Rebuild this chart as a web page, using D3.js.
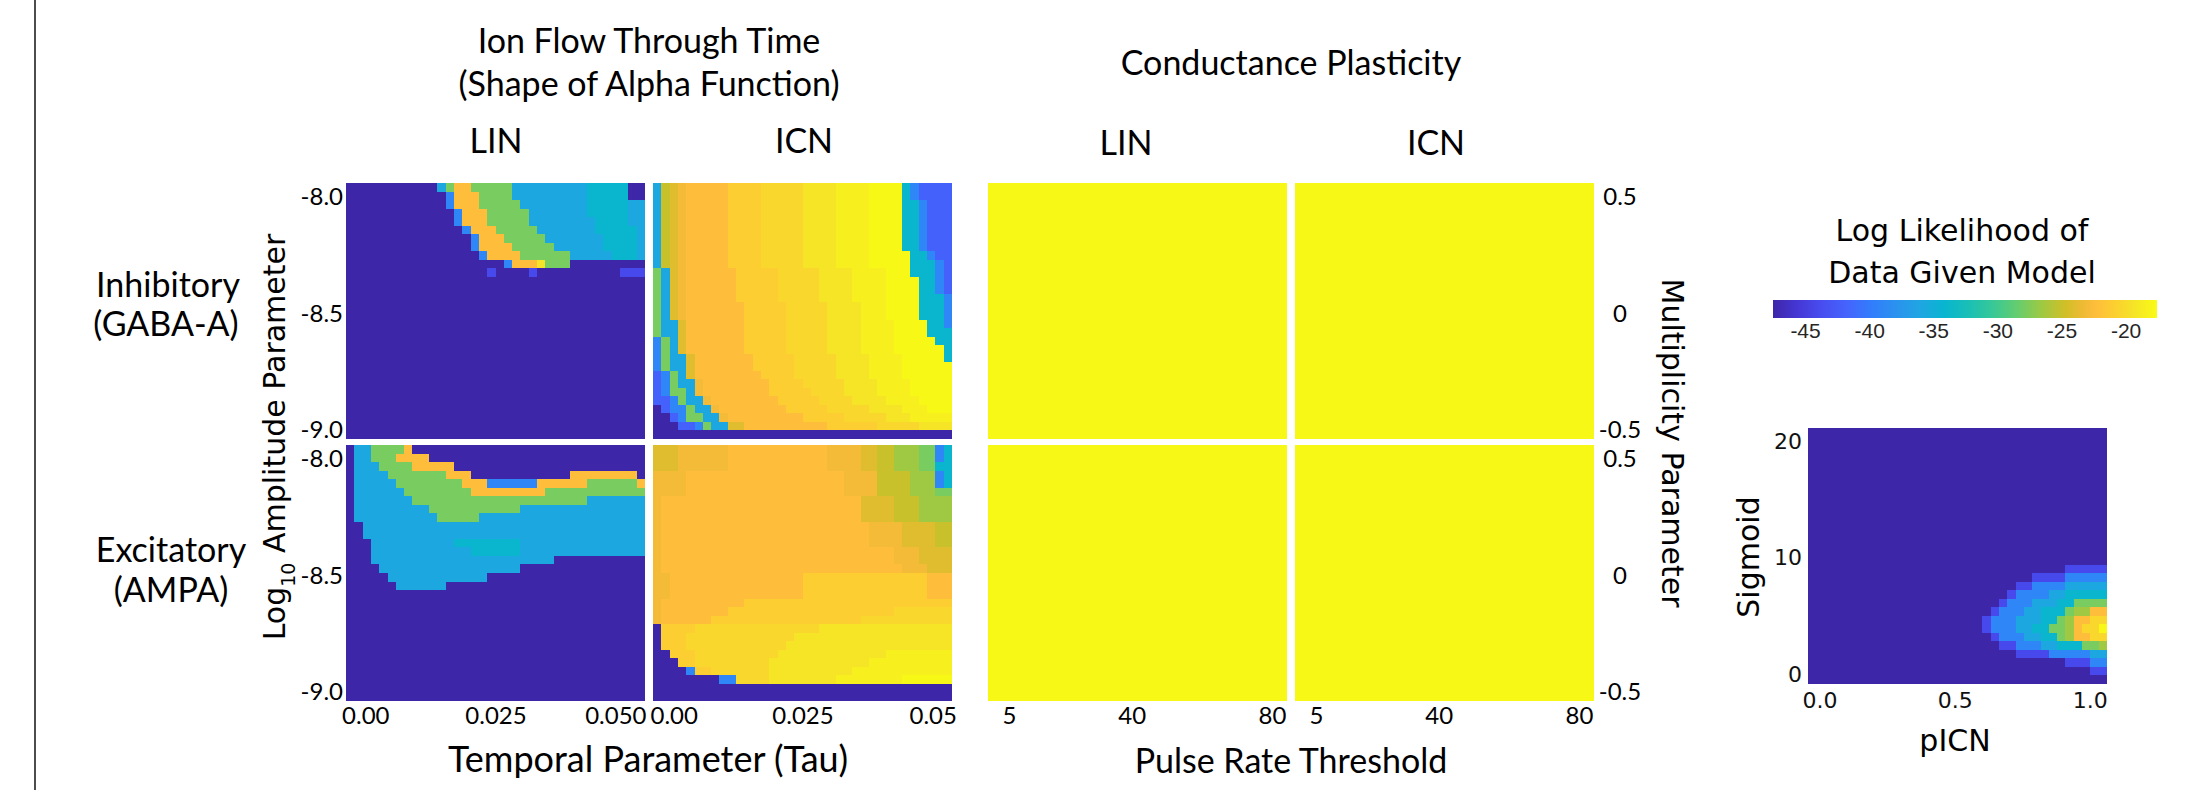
<!DOCTYPE html>
<html>
<head>
<meta charset="utf-8">
<script src="https://cdn.jsdelivr.net/npm/d3@7"></script>
<style>
  body { margin: 0; background: #fff; }
  svg { display: block; }
</style>
</head>
<body>
<svg id="chart" width="2186" height="790"></svg>
<script>
// ticks and tick labels
let tauTicks = [0, 0.025, 0.05]
let tauLabelsLIN = ['0.00', '0.025', '0.050']
let tauLabelsICN = ['0.00', '0.025', '0.05']
let ampTicks = [-8.0, -8.5, -9.0]
let pulseTicks = [5, 40, 80]
let multTicks = [0.5, 0, -0.5]
let picnTicks = [0, 0.5, 1.0]
let sigmoidTicks = [0, 10, 20]
let llTicks = [-45, -40, -35, -30, -25, -20]
let llDomain = [-47.5, -17.55]

// log likelihood of each cell code used in the grids below
let levelCodes  = ['.', 'u', 'v', 'b', 'c', 't', 'g', 'o', 'y', 'A', 'B', 'C', 'D', 'E', 'F', 'G', 'H', 'I', 'J']
let levelValues = [-47.5, -44, -42, -39, -35.8, -34, -27.8, -22.3, -19.4, -26.5, -25, -24, -23, -22.3, -21, -20.3, -19.3, -18.5, -17.8]

// grids, top row first, each row run-length coded as "<count><code>"
let inhibLIN = [
  '11. 1c 1g 2o 5g 9c 5t 2.',
  '12. 1b 3o 4g 9c 5t 2.',
  '12. 1b 3o 5g 8c 5t 2c',
  '13. 1b 3o 5g 7c 5t 2c',
  '13. 1b 3o 5g 8c 4t 2c',
  '14. 1b 3o 5g 7c 5t 1c',
  '15. 1b 3o 5g 7c 4t 1c',
  '15. 1b 4o 5g 6c 4t 1c',
  '16. 1b 4o 6g 5c 3t 1c',
  '19. 1b 3o 1y 3g 9.',
  '17. 1u 4. 1u 10. 3u',
  '36.', '36.', '36.', '36.', '36.', '36.', '36.', '36.', '36.', '36.',
  '36.', '36.', '36.', '36.', '36.', '36.', '36.', '36.', '36.'
]

let inhibICN = [
  '1c 1B 1C 1D 5E 4F 5G 4H 4I 4J 1t 1b 4v',
  '1c 1B 1C 1D 5E 4F 5G 4H 4I 4J 1t 1b 4v',
  '1c 1B 1C 1D 5E 4F 5G 4H 4I 4J 2t 1b 3v',
  '1c 1B 1C 1D 5E 4F 5G 4H 4I 4J 2t 1b 3v',
  '1c 1B 1C 1D 5E 4F 5G 4H 4I 4J 2t 1b 3v',
  '1c 1B 1C 1D 5E 4F 5G 4H 4I 4J 2t 1b 3v',
  '1c 1B 1C 1D 5E 4F 5G 4H 4I 4J 2t 1b 3v',
  '1c 1B 1C 1D 5E 4F 5G 4H 4I 4J 2t 1b 3v',
  '1c 1B 1C 1D 5E 4F 5G 4H 4I 5J 2t 1b 2v',
  '1c 1B 1C 1D 5E 4F 5G 4H 4I 5J 3t 1b 1v',
  '1g 1c 1C 1D 6E 5F 5G 4H 4I 3J 3t 1b 1v',
  '1g 1c 1C 1D 6E 5F 5G 4H 4I 4J 2t 1b 1v',
  '1g 1c 1C 1D 6E 5F 5G 4H 4I 4J 2t 1b 1v',
  '1g 1c 1C 1D 6E 5F 5G 4H 4I 4J 3t 1b',
  '1g 1c 1C 1D 7E 5F 5G 4H 3I 4J 3t 1b',
  '1g 1c 1C 1D 7E 5F 5G 4H 3I 4J 3t 1b',
  '1g 2c 1C 7E 5F 5G 4H 4I 4J 2t 1b',
  '1g 2c 1C 7E 5F 5G 4H 4I 4J 3t',
  '1b 1g 1c 1C 7E 5F 5G 4H 4I 5J 2t',
  '1b 1g 1c 1C 7E 5F 5G 4H 4I 6J 1t',
  '1b 1g 2c 1C 7E 5F 5G 4H 4I 5J 1t',
  '1b 1g 2c 1C 7E 5F 5G 4H 4I 6J',
  '1v 1b 1g 1c 1C 8E 4F 5G 4H 4I 6J',
  '1v 1b 1g 2c 1D 8E 4F 5G 4H 4I 5J',
  '1v 1b 2g 1c 1D 8E 5F 4G 4H 4I 5J',
  '2v 1b 1g 2c 1D 8E 5F 4G 4H 4I 4J',
  '1. 1v 2b 1g 2c 1D 8E 5F 5G 4H 3I 3J',
  '2. 1v 1b 2g 2c 1D 9E 5F 5G 3H 5I',
  '3. 2v 1b 1g 2c 2C 10E 6F 5G 4H',
  '36.'
]

let excitLIN = [
  '1. 2c 4g 1o 28.',
  '1. 2c 3g 4o 26.',
  '1. 3c 4g 5o 23.',
  '1. 4c 7g 3o 12. 8o 1.',
  '1. 5c 8g 3o 6b 6o 6g 1o',
  '1. 6c 8g 9o 12g',
  '1. 7c 21g 7c',
  '1. 9c 11g 15c',
  '1. 10c 5g 20c',
  '2. 34c',
  '2. 34c',
  '3. 10c 8t 15c',
  '3. 12c 6t 15c',
  '3. 22c 11.',
  '4. 17c 15.',
  '5. 12c 19.',
  '6. 6c 24.',
  '36.', '36.', '36.', '36.', '36.', '36.', '36.', '36.', '36.', '36.',
  '36.', '36.', '36.'
]

let excitICN = [
  '3C 6D 12E 4D 2C 2B 3A 2g 1b 1t',
  '3C 6D 12E 4D 2C 2B 3A 2g 1b 1t',
  '3C 6D 12E 4D 2C 2B 3A 2g 2t',
  '4D 19E 4D 4B 3A 1b 1t',
  '4D 19E 4D 4B 3A 1b 1t',
  '4D 19E 4D 4B 3A 2g',
  '1D 24E 4C 3B 4A',
  '1D 24E 4C 3B 4A',
  '1D 24E 4C 3B 4A',
  '1D 25E 4D 4C 2B',
  '1D 25E 4D 4C 2B',
  '1D 25E 4D 4C 2B',
  '1D 28E 3D 4C',
  '1D 28E 3D 4C',
  '1D 29E 3D 3C',
  '2D 16E 15F 3E',
  '2D 16E 15F 3E',
  '2D 16E 15F 3E',
  '1D 10E 25F',
  '1D 8E 20F 7G',
  '1D 6E 18F 11G',
  '1. 4F 15G 16H',
  '1. 3F 13G 19H',
  '1. 3F 12G 20H',
  '2. 3F 10G 13H 8I',
  '3. 2F 9G 12H 10I',
  '4. 1b 2F 7G 10H 12I',
  '8. 2b 4G 8H 8I 6J',
  '36.',
  '36.'
]

let condInhibLIN = ['1J']
let condInhibICN = ['1J']
let condExcitLIN = ['1J']
let condExcitICN = ['1J']

let picnSigmoid = [
  '36.', '36.', '36.', '36.', '36.', '36.', '36.', '36.',
  '36.', '36.', '36.', '36.', '36.', '36.', '36.', '36.',
  '31. 5u',
  '27. 4u 5b',
  '25. 2u 4b 5c',
  '24. 1u 4b 2c 5t',
  '23. 1u 3b 3c 2t 4g',
  '22. 1u 3b 2c 3t 1g 2A 2E',
  '21. 1u 3b 3c 2t 1g 1A 2E 2G',
  '21. 1u 3b 2c 2t 2g 1A 1E 2G 1J',
  '22. 1u 3b 2c 2t 1g 1A 2E 2G',
  '23. 2u 3b 2c 3t 2g 1A',
  '25. 4u 5b 2c',
  '31. 3u 2b',
  '34. 2u',
  '36.'
]

// parula colormap (position, r, g, b)
let parula = [
  [0 / 63, 0.2422, 0.1504, 0.6603], [4 / 63, 0.2706, 0.2147, 0.8364],
  [8 / 63, 0.2813, 0.3006, 0.9414], [12 / 63, 0.2699, 0.3892, 0.9906],
  [16 / 63, 0.1963, 0.4847, 0.9892], [20 / 63, 0.1687, 0.5703, 0.9359],
  [24 / 63, 0.1248, 0.6459, 0.8883], [28 / 63, 0.0297, 0.7082, 0.8163],
  [32 / 63, 0.0964, 0.7500, 0.7120], [36 / 63, 0.2161, 0.7843, 0.5923],
  [40 / 63, 0.3909, 0.8029, 0.4354], [44 / 63, 0.6174, 0.7876, 0.2612],
  [48 / 63, 0.8203, 0.7498, 0.1535], [51 / 63, 0.9393, 0.7288, 0.2100],
  [53 / 63, 0.9956, 0.7434, 0.2371], [56 / 63, 0.9892, 0.8136, 0.1885],
  [59 / 63, 0.9610, 0.8890, 0.1537], [63 / 63, 0.9769, 0.9839, 0.0805]
]

let myriad = 'Lato, "Open Sans", sans-serif'
let lucida = '"DejaVu Sans", Verdana, sans-serif'
let helv = '"Liberation Sans", Arial, sans-serif'

let svg = d3.select('#chart')

let hex = (p) => d3.rgb(p[1] * 255, p[2] * 255, p[3] * 255).formatHex()
let color = d3.scaleLinear()
    .domain(parula.map((p) => llDomain[0] + p[0] * (llDomain[1] - llDomain[0])))
    .range(parula.map(hex))
    .clamp(true)

let parseRow = (row) => row.match(/\d+\D/g).map((t) => ({ n: +t.slice(0, -1), code: t.slice(-1) }))

let drawGrid = (grid, xr, yr) => {
    let rows = grid.map(parseRow)
    let nCols = d3.sum(rows[0], (d) => d.n)
    let x = d3.scaleLinear().domain([0, nCols]).range(xr)
    let y = d3.scaleBand().domain(d3.range(rows.length)).range(yr)
    let runs = []
    rows.forEach((row, i) => {
        let c = 0
        row.forEach((r) => {
            runs.push({ i: i, c: c, n: r.n, v: levelValues[levelCodes.indexOf(r.code)] })
            c += r.n
        })
    })
    svg.append('g')
        .attr('shape-rendering', 'crispEdges')
        .selectAll('rect')
        .data(runs)
        .enter()
        .append('rect')
        .attr('x', (d) => x(d.c))
        .attr('y', (d) => y(d.i))
        .attr('width', (d) => x(d.c + d.n) - x(d.c))
        .attr('height', y.bandwidth())
        .attr('fill', (d) => color(d.v))
}

let styleAxis = (g, font, size, fill) => {
    g.select('.domain').remove()
    g.attr('font-family', font).attr('font-size', size)
    g.selectAll('text').attr('fill', fill)
}

let label = (x, y, txt, font, size) => svg.append('text')
    .attr('x', x).attr('y', y)
    .attr('text-anchor', 'middle')
    .attr('font-family', font)
    .attr('font-size', size)
    .attr('fill', '#000')
    .text(txt)

// panel frames
let colLIN = [346, 645], colICN = [653, 952], colCondLIN = [988, 1287], colCondICN = [1295, 1594]
let rowInhib = [183, 439], rowExcit = [445, 701]

drawGrid(inhibLIN, colLIN, rowInhib)
drawGrid(inhibICN, colICN, rowInhib)
drawGrid(condInhibLIN, colCondLIN, rowInhib)
drawGrid(condInhibICN, colCondICN, rowInhib)
drawGrid(excitLIN, colLIN, rowExcit)
drawGrid(excitICN, colICN, rowExcit)
drawGrid(condExcitLIN, colCondLIN, rowExcit)
drawGrid(condExcitICN, colCondICN, rowExcit)

// left amplitude axes and right multiplicity axes
;[rowInhib, rowExcit].forEach((r) => {
    let amp = d3.scaleLinear().domain([-7.94, -9.04]).range(r)
    let g = svg.append('g').attr('transform', 'translate(' + colLIN[0] + ',0)')
        .call(d3.axisLeft(amp).tickValues(ampTicks).tickSize(0).tickPadding(3).tickFormat((d) => d.toFixed(1)))
    styleAxis(g, myriad, 24, '#000')

    let mult = d3.scaleLinear().domain([0.56, -0.54]).range(r)
    let g2 = svg.append('g').attr('transform', 'translate(' + colCondICN[1] + ',0)')
        .call(d3.axisRight(mult).tickValues(multTicks).tickSize(0).tickFormat((d) => String(d)))
    styleAxis(g2, myriad, 24, '#000')
    g2.selectAll('text').attr('text-anchor', 'middle').attr('x', 26)
})

// bottom axes
let tauLIN = d3.scaleLinear().domain([-0.0037, 0.0537]).range(colLIN)
let tauICN = d3.scaleLinear().domain([-0.0037, 0.0537]).range(colICN)
let gTauLIN = svg.append('g').attr('transform', 'translate(0,' + rowExcit[1] + ')')
    .call(d3.axisBottom(tauLIN).tickValues(tauTicks).tickSize(0).tickPadding(6).tickFormat((d, i) => tauLabelsLIN[i]))
styleAxis(gTauLIN, myriad, 24, '#000')
// last LIN label and first ICN label meet at the panel gap
gTauLIN.selectAll('text').filter((d, i) => i === 2)
    .attr('text-anchor', 'end').attr('x', colLIN[1] + 1 - tauLIN(0.05))
let gTauICN = svg.append('g').attr('transform', 'translate(0,' + rowExcit[1] + ')')
    .call(d3.axisBottom(tauICN).tickValues(tauTicks).tickSize(0).tickPadding(6).tickFormat((d, i) => tauLabelsICN[i]))
styleAxis(gTauICN, myriad, 24, '#000')
gTauICN.selectAll('text').filter((d, i) => i === 0)
    .attr('text-anchor', 'start').attr('x', colICN[0] - 3 - tauICN(0))

;[colCondLIN, colCondICN].forEach((c) => {
    let pulse = d3.scaleLinear().domain([-1, 84.3]).range(c)
    let g = svg.append('g').attr('transform', 'translate(0,' + rowExcit[1] + ')')
        .call(d3.axisBottom(pulse).tickValues(pulseTicks).tickSize(0).tickPadding(6).tickFormat((d) => String(d)))
    styleAxis(g, myriad, 24, '#000')
})

// small pICN / sigmoid map
let picnX = d3.scaleLinear().domain([-0.043, 1.064]).range([1808, 2107])
let sigY = d3.scaleLinear().domain([-0.86, 21.15]).range([684, 428])
drawGrid(picnSigmoid, picnX.range(), [428, 684])
let gx = svg.append('g').attr('transform', 'translate(0,684)')
    .call(d3.axisBottom(picnX).tickValues(picnTicks).tickSize(0).tickPadding(8).tickFormat((d) => d.toFixed(1)))
styleAxis(gx, lucida, 22, '#111')
let gy = svg.append('g').attr('transform', 'translate(1808,0)')
    .call(d3.axisLeft(sigY).tickValues(sigmoidTicks).tickSize(0).tickPadding(6).tickFormat((d) => String(d)))
styleAxis(gy, lucida, 22, '#111')

// colorbar
let cbX = d3.scaleLinear().domain(llDomain).range([1773, 2157])
let grad = svg.append('defs').append('linearGradient').attr('id', 'parula')
grad.selectAll('stop').data(parula).enter().append('stop')
    .attr('offset', (p) => p[0])
    .attr('stop-color', hex)
svg.append('rect').attr('x', cbX(llDomain[0])).attr('y', 300)
    .attr('width', cbX(llDomain[1]) - cbX(llDomain[0])).attr('height', 18)
    .attr('fill', 'url(#parula)')
let gc = svg.append('g').attr('transform', 'translate(0,318)')
    .call(d3.axisBottom(cbX).tickValues(llTicks).tickSize(0).tickPadding(5).tickFormat((d) => String(d)))
styleAxis(gc, helv, 21, '#262626')

// texts
svg.append('line').attr('x1', 35).attr('x2', 35).attr('y1', 0).attr('y2', 790)
    .attr('stroke', '#000').attr('stroke-width', 1.4)

label(649, 53, 'Ion Flow Through Time', myriad, 34)
label(649, 96, '(Shape of Alpha Function)', myriad, 34)
label(1291, 75, 'Conductance Plasticity', myriad, 34)
label(496, 153, 'LIN', myriad, 34)
label(804, 153, 'ICN', myriad, 34)
label(1126, 155, 'LIN', myriad, 34)
label(1436, 155, 'ICN', myriad, 34)
label(168, 297, 'Inhibitory', myriad, 34)
label(166, 336, '(GABA-A)', myriad, 34)
label(171, 562, 'Excitatory', myriad, 34)
label(171, 602, '(AMPA)', myriad, 34)
label(648, 772, 'Temporal Parameter (Tau)', myriad, 36)
label(1291, 773, 'Pulse Rate Threshold', myriad, 34)

label(1962, 241, 'Log Likelihood of', lucida, 30)
label(1962, 283, 'Data Given Model', lucida, 30)
label(1955, 751, 'pICN', lucida, 30)

svg.append('text')
    .attr('transform', 'translate(1759,557) rotate(-90)')
    .attr('text-anchor', 'middle').attr('font-family', lucida).attr('font-size', 30)
    .text('Sigmoid')

let ampLabel = svg.append('text')
    .attr('transform', 'translate(285,437) rotate(-90)')
    .attr('text-anchor', 'middle').attr('font-family', lucida).attr('font-size', 30)
ampLabel.append('tspan').text('Log')
ampLabel.append('tspan').attr('font-size', 19).attr('dy', 10).text('10')
ampLabel.append('tspan').attr('dy', -10).text(' Amplitude Parameter')

svg.append('text')
    .attr('transform', 'translate(1662,443) rotate(90)')
    .attr('text-anchor', 'middle').attr('font-family', lucida).attr('font-size', 30)
    .text('Multiplicity Parameter')
</script>
</body>
</html>
